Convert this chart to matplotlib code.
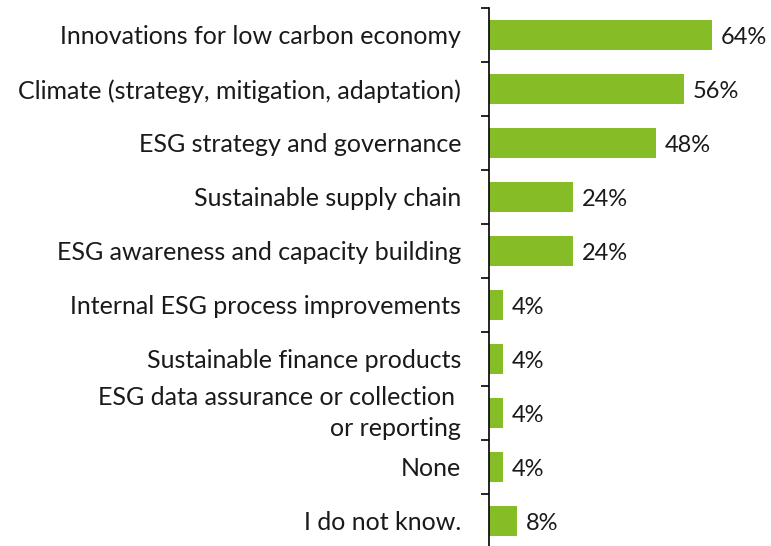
import numpy as np
import matplotlib.pyplot as plt

plt.rcParams['font.family'] = ['Lato', 'DejaVu Sans']

categories = [
    "Innovations for low carbon economy",
    "Climate (strategy, mitigation, adaptation)",
    "ESG strategy and governance",
    "Sustainable supply chain",
    "ESG awareness and capacity building",
    "Internal ESG process improvements",
    "Sustainable finance products",
    "ESG data assurance or collection \nor reporting",
    "None",
    "I do not know.",
]
values = [64, 56, 48, 24, 24, 4, 4, 4, 4, 8]

fig = plt.figure(figsize=(7.71, 5.46), dpi=100)
# axes: x from 489px to right edge, y from 8px to 548px
ax = fig.add_axes([489 / 771, -2 / 546, 1 - 489 / 771, 540 / 546])

y = np.arange(len(categories))
ax.barh(y, values, height=0.56, color='#86BC25')
for yi, v in zip(y, values):
    ax.text(v + 2.6, yi + 0.04, f"{v}%", va='center', ha='left', fontsize=17, color='#1a1a1a')

ax.set_xlim(0, 81)
ax.set_ylim(len(categories) - 0.5, -0.5)
ax.set_yticks(y)
ax.set_yticklabels(categories, fontsize=18, color='#1a1a1a')
for lbl in ax.get_yticklabels():
    lbl.set_linespacing(1.4)
    if "\n" in lbl.get_text():
        lbl.set_va('center')
ax.set_yticks(np.arange(len(categories) + 1) - 0.5, minor=True)
ax.tick_params(axis='y', which='major', length=0, pad=20)
ax.tick_params(axis='y', which='minor', length=6, width=1.2, color='black')
ax.set_xticks([])
for s in ['top', 'right', 'bottom']:
    ax.spines[s].set_visible(False)
ax.spines['left'].set_linewidth(1.2)

fig.savefig('out.png', dpi=100)
